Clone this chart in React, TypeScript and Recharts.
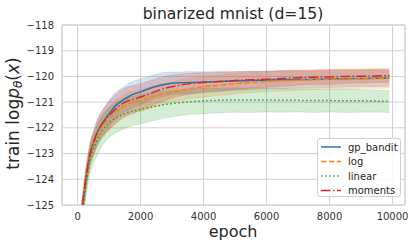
import { Area, CartesianGrid, ComposedChart, Line, ReferenceArea, XAxis, YAxis } from 'recharts'

const epochs = [100, 200, 300, 400, 500, 600, 700, 800, 1000, 1200, 1400, 1600, 1800, 2000, 2400, 2800, 3200, 3600, 4000, 4500, 5000, 5500, 6000, 6500, 7000, 7500, 8000, 8500, 9000, 9500, 9900]

const gpBandit = [-125.6, -124.6, -123.7, -123.0, -122.6, -122.25, -122.0, -121.8, -121.45, -121.15, -120.95, -120.8, -120.68, -120.6, -120.42, -120.3, -120.25, -120.24, -120.22, -120.2, -120.18, -120.16, -120.14, -120.13, -120.12, -120.11, -120.1, -120.09, -120.08, -120.07, -120.07]
const logSched = [-125.7, -124.7, -123.8, -123.15, -122.7, -122.35, -122.1, -121.92, -121.62, -121.4, -121.22, -121.08, -120.98, -120.94, -120.78, -120.66, -120.56, -120.47, -120.4, -120.34, -120.28, -120.24, -120.2, -120.17, -120.15, -120.13, -120.11, -120.1, -120.09, -120.08, -120.07]
const linearSched = [-125.9, -124.8, -123.95, -123.2, -122.85, -122.55, -122.3, -122.08, -121.8, -121.62, -121.5, -121.4, -121.33, -121.28, -121.18, -121.09, -121.03, -120.98, -120.95, -120.93, -120.92, -120.92, -120.92, -120.93, -120.93, -120.94, -120.94, -120.95, -120.95, -120.96, -120.97]
const moments = [-125.6, -124.55, -123.65, -123.0, -122.6, -122.25, -122.0, -121.82, -121.52, -121.28, -121.08, -120.95, -120.88, -120.8, -120.62, -120.45, -120.35, -120.28, -120.24, -120.2, -120.16, -120.13, -120.11, -120.08, -120.05, -120.03, -120.02, -120.0, -119.99, -119.98, -119.97]

// +/- spread of the shaded bands
const gpSpread = [0.35, 0.4, 0.4, 0.42, 0.45, 0.47, 0.5, 0.5, 0.52, 0.53, 0.5, 0.52, 0.5, 0.5, 0.47, 0.46, 0.42, 0.43, 0.4, 0.39, 0.36, 0.36, 0.34, 0.34, 0.33, 0.32, 0.33, 0.32, 0.31, 0.32, 0.3]
const logSpread = [0.35, 0.4, 0.4, 0.4, 0.42, 0.43, 0.44, 0.45, 0.45, 0.46, 0.45, 0.44, 0.43, 0.42, 0.42, 0.41, 0.41, 0.4, 0.41, 0.4, 0.4, 0.39, 0.39, 0.4, 0.39, 0.38, 0.38, 0.39, 0.38, 0.38, 0.38]
const linearSpread = [0.45, 0.5, 0.52, 0.55, 0.57, 0.58, 0.58, 0.58, 0.58, 0.59, 0.57, 0.57, 0.56, 0.57, 0.54, 0.52, 0.5, 0.49, 0.5, 0.48, 0.47, 0.48, 0.46, 0.46, 0.45, 0.46, 0.44, 0.45, 0.44, 0.43, 0.43]
const momentsSpread = [0.35, 0.4, 0.4, 0.42, 0.45, 0.48, 0.5, 0.52, 0.55, 0.56, 0.55, 0.55, 0.53, 0.52, 0.5, 0.47, 0.43, 0.41, 0.38, 0.37, 0.34, 0.33, 0.31, 0.31, 0.29, 0.28, 0.29, 0.27, 0.27, 0.26, 0.26]

const xTicks = [0, 2000, 4000, 6000, 8000, 10000]
const yTicks = [-125, -124, -123, -122, -121, -120, -119, -118]

const legendNames = ['gp_bandit', 'log', 'linear', 'moments']
const colors = ['#1f77b4', '#ff7f0e', '#2ca02c', '#d62728']
const dashes = ['none', '5.5 2.4', '1.5 2.5', '9.6 2.4 1.5 2.4']

const font = '"DejaVu Sans", sans-serif'

const band = (m: number[], s: number[], i: number) => [m[i] - s[i], m[i] + s[i]]

const data = epochs.map((epoch, i) => ({
  epoch,
  gp: gpBandit[i],
  log: logSched[i],
  linear: linearSched[i],
  moments: moments[i],
  gpBand: band(gpBandit, gpSpread, i),
  logBand: band(logSched, logSpread, i),
  linearBand: band(linearSched, linearSpread, i),
  momentsBand: band(moments, momentsSpread, i),
}))

const keys = ['gp', 'log', 'linear', 'moments']
const fmt = (v: number) => String(v).replace('-', '\u2212')
const tickStyle = { fill: '#333', fontSize: 10, fontFamily: font }

export default function App() {
  return (
    <div style={{ position: 'fixed', left: 0, top: 0, width: 416, height: 248, background: '#fff' }}>
      <ComposedChart width={416} height={248} data={data} margin={{ top: 25, right: 11, bottom: 0, left: 0 }}>
        <CartesianGrid stroke="#d0d0d0" strokeWidth={1} />
        <XAxis
          dataKey="epoch"
          type="number"
          domain={[-495, 10395]}
          ticks={xTicks}
          interval={0}
          allowDataOverflow
          tickLine={false}
          axisLine={false}
          height={43}
          tick={tickStyle}
        />
        <YAxis
          type="number"
          domain={[-125, -118]}
          ticks={yTicks}
          interval={0}
          allowDataOverflow
          tickLine={false}
          axisLine={false}
          width={62}
          tick={tickStyle}
          tickFormatter={fmt}
        />
        <ReferenceArea x1={-495} x2={10395} y1={-125} y2={-118} fill="none" stroke="#d0d0d0" strokeWidth={1} />
        {keys.map((k, i) => (
          <Area
            key={k + 'Band'}
            dataKey={k + 'Band'}
            type="monotone"
            fill={colors[i]}
            fillOpacity={0.2}
            stroke={colors[i]}
            strokeOpacity={0.15}
            activeDot={false}
            isAnimationActive={false}
          />
        ))}
        {keys.map((k, i) => (
          <Line
            key={k}
            dataKey={k}
            type="monotone"
            stroke={colors[i]}
            strokeWidth={1.5}
            strokeDasharray={dashes[i]}
            dot={false}
            activeDot={false}
            isAnimationActive={false}
          />
        ))}
      </ComposedChart>
      <svg width={416} height={248} style={{ position: 'absolute', left: 0, top: 0, pointerEvents: 'none' }}>
        <text x={233} y={19} textAnchor="middle" fontFamily={font} fontSize={15.6} fill="#262626">
          binarized mnist (d=15)
        </text>
        <text x={233} y={237} textAnchor="middle" fontFamily={font} fontSize={16} fill="#262626">
          epoch
        </text>
        <text transform="translate(19,113.5) rotate(-90)" textAnchor="middle" fontFamily={font} fontSize={17} fill="#262626">
          train log<tspan fontStyle="italic">p</tspan>
          <tspan fontStyle="italic" fontSize={12} dy={3}>θ</tspan>
          <tspan dy={-3}>(</tspan>
          <tspan fontStyle="italic">x</tspan>)
        </text>
        <rect x={317.5} y={138.5} width={83} height={58} rx={2.5} fill="#fff" fillOpacity={0.85} stroke="#d0d0d0" />
        {legendNames.map((name, i) => (
          <g key={name}>
            <line
              x1={321}
              x2={341}
              y1={147 + i * 14.5}
              y2={147 + i * 14.5}
              stroke={colors[i]}
              strokeWidth={1.5}
              strokeDasharray={dashes[i]}
            />
            <text x={348} y={150.5 + i * 14.5} fontFamily={font} fontSize={10} fill="#262626">
              {name}
            </text>
          </g>
        ))}
      </svg>
    </div>
  )
}
